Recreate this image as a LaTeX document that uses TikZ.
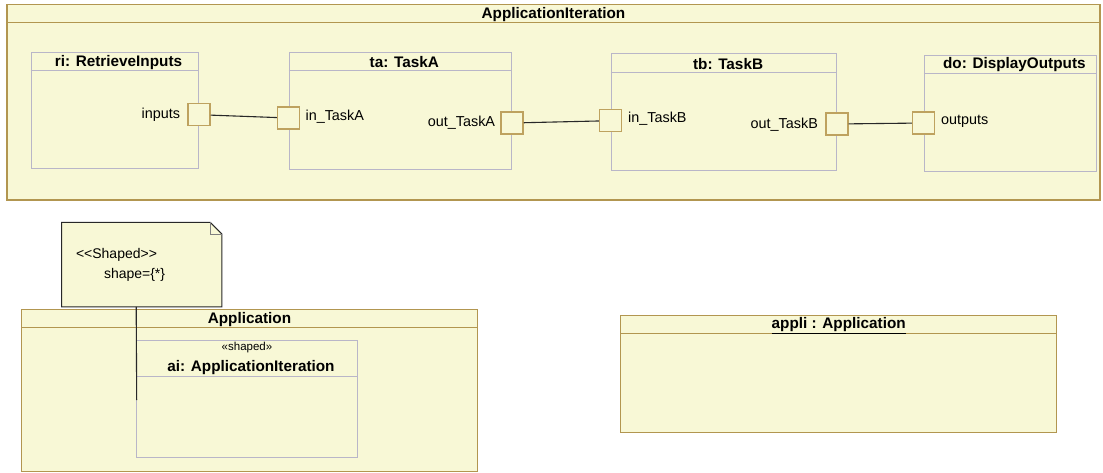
\documentclass[tikz,border=0pt]{standalone}
\usepackage{fontspec}
\setmainfont{Liberation Sans}
\usetikzlibrary{positioning,calc,backgrounds}
\definecolor{umlfill}{RGB}{248,248,214}
\definecolor{umlgold}{RGB}{178,150,80}
\definecolor{portgold}{RGB}{190,162,95}
\definecolor{partgray}{RGB}{185,182,200}
\definecolor{notedark}{RGB}{40,40,40}

\begin{document}
\begin{tikzpicture}[x=1pt, y=-1pt,
    classbox/.style={draw=umlgold, fill=umlfill, line width=1.3pt, inner sep=0pt},
    partbox/.style={draw=partgray, fill=umlfill, line width=1pt, inner sep=0pt},
    port/.style={draw=portgold, fill=umlfill, line width=1.5pt, minimum size=22pt, inner sep=0pt},
    ttl/.style={font=\fontsize{15.3}{18}\selectfont\bfseries, inner sep=0pt},
    ptl/.style={ttl, xshift=4pt},
    plabel/.style={font=\fontsize{14.4}{17}\selectfont, inner sep=0pt},
    notebox/.style={inner sep=0pt, align=left, font=\fontsize{14}{20}\selectfont},
    wire/.style={draw=notedark, line width=1.1pt}]
  \newcommand{\hdr}[3]{\draw[#1] ([yshift=-#2]#3.north west) -- ([yshift=-#2]#3.north east);}
  \useasboundingbox (0,0) rectangle (1103,473);
  % application iteration
  \node[classbox, minimum width=1093pt, minimum height=195.5pt] (iter) at (553.5,102.25) {};
  \hdr{umlgold, line width=1.3pt}{19pt}{iter}
  \node[ttl] at ([yshift=-10.5pt]iter.north) {ApplicationIteration};
  \node[partbox, minimum width=167pt, minimum height=116pt] (ri) at (114.5,111) {};
  \node[partbox, minimum width=222.5pt, minimum height=116.3pt] (ta) at (400.25,111.15) {};
  \node[partbox, minimum width=225.3pt, minimum height=117pt] (tb) at (724.05,112.5) {};
  \node[partbox, minimum width=171.9pt, minimum height=116.7pt] (do) at (1010.35,113.65) {};
  \hdr{partgray, line width=1pt}{18.3pt}{ri}
  \hdr{partgray, line width=1pt}{18.3pt}{ta}
  \hdr{partgray, line width=1pt}{18.7pt}{tb}
  \hdr{partgray, line width=1pt}{18.7pt}{do}
  \node[ptl] at ([yshift=-10pt]ri.north) {ri: RetrieveInputs};
  \node[ptl] at ([yshift=-10pt]ta.north) {ta: TaskA};
  \node[ptl] at ([yshift=-10.3pt]tb.north) {tb: TaskB};
  \node[ptl] at ([yshift=-10pt]do.north) {do: DisplayOutputs};
  % ports
  \node[port] (pin) at (199,114.7) {};
  \node[port] (pina) at (288.6,118) {};
  \node[port] (pouta) at (512,123) {};
  \node[port] (pinb) at (610.7,120.7) {};
  \node[port] (poutb) at (836.8,124) {};
  \node[port] (pout) at (923.7,123) {};
  \node[plabel, left=7pt of pin] {inputs};
  \node[plabel, right=5pt of pina, yshift=1pt] {in\_TaskA};
  \node[plabel, left=5pt of pouta] {out\_TaskA};
  \node[plabel, right=5.5pt of pinb, yshift=2pt] {in\_TaskB};
  \node[plabel, left=7pt of poutb, yshift=-1pt] {out\_TaskB};
  \node[plabel, right=5.5pt of pout, yshift=2pt] {outputs};
  \draw[wire] (pin) -- (pina);
  \draw[wire] (pouta) -- (pinb);
  \draw[wire] (poutb) -- (pout);
  % application and its note
  \node[notebox, minimum width=160pt, minimum height=84pt, text width=131.4pt] (note) at (141.7,264.7)
       {<{}<Shaped>{}>\\\hspace*{28pt}shape=\{*\}};
  \begin{scope}[on background layer]
    \draw[notedark, fill=umlfill, line width=1pt] (note.south west) -- (note.north west)
         -- ([xshift=-11.5pt]note.north east) -- ([yshift=-11.5pt]note.north east)
         -- (note.south east) -- cycle;
    \draw[gray, line width=0.8pt] ([xshift=-11.5pt]note.north east)
         -- ([xshift=-11.5pt, yshift=-11.5pt]note.north east) -- ([yshift=-11.5pt]note.north east);
  \end{scope}
  \node[classbox, minimum width=455.6pt, minimum height=162.4pt] (app) at (249.5,390.5) {};
  \hdr{umlgold, line width=1.3pt}{19pt}{app}
  \node[ttl] at ([yshift=-11pt]app.north) {Application};
  \node[partbox, minimum width=220.6pt, minimum height=116.6pt] (ai) at (247,399) {};
  \hdr{partgray, line width=1pt}{36.6pt}{ai}
  \node[inner sep=0pt, font=\fontsize{11.5}{13}\selectfont] at ([yshift=-7.5pt]ai.north) {«shaped»};
  \node[ptl] at ([yshift=-27.5pt]ai.north) {ai: ApplicationIteration};
  \coordinate (noteend) at (136.7,400);
  \draw[wire] (note.south -| ai.west) -- (noteend);
  % instance
  \node[classbox, minimum width=436pt, minimum height=117pt] (appli) at (838.7,374.2) {};
  \hdr{umlgold, line width=1.3pt}{18.6pt}{appli}
  \node[ttl] at ([yshift=-10.8pt]appli.north) {\underline{appli : Application}};
\end{tikzpicture}
\end{document}
